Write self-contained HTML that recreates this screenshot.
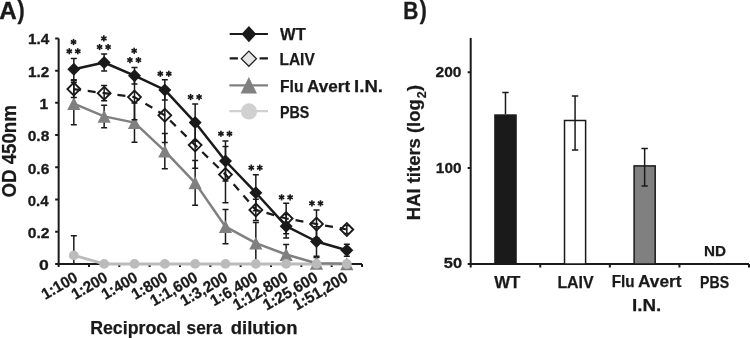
<!DOCTYPE html>
<html><head><meta charset="utf-8"><style>
html,body{margin:0;padding:0;background:#fff;width:750px;height:338px;overflow:hidden;}
svg{display:block;will-change:transform;}
text{font-family:"Liberation Sans",sans-serif;}
</style></head><body>
<svg width="750" height="338" viewBox="0 0 750 338">
<rect width="750" height="338" fill="#fff"/>
<path d="M58.65 38.4V264.0H362.0" stroke="#1a1a1a" stroke-width="2" fill="none"/>
<path d="M55.15 264.00H58.65M55.15 231.77H58.65M55.15 199.54H58.65M55.15 167.31H58.65M55.15 135.09H58.65M55.15 102.86H58.65M55.15 70.63H58.65M55.15 38.40H58.65M58.65 264.0V266.90M88.98 264.0V266.90M119.32 264.0V266.90M149.66 264.0V266.90M179.99 264.0V266.90M210.33 264.0V266.90M240.66 264.0V266.90M271.00 264.0V266.90M301.33 264.0V266.90M331.66 264.0V266.90M362.00 264.0V266.90" stroke="#1a1a1a" stroke-width="2" fill="none"/>
<text transform="translate(16.0 151.35) rotate(-90)" text-anchor="middle" font-family="Liberation Sans, sans-serif" font-weight="bold" font-size="19.3" fill="#1a1a1a" stroke="#1a1a1a" stroke-width="0.25" textLength="92.5" lengthAdjust="spacingAndGlyphs">OD 450nm</text>
<text transform="translate(78.80 280.60) rotate(-30)" text-anchor="end" font-family="Liberation Sans, sans-serif" font-weight="bold" font-size="15.7" fill="#1a1a1a" stroke="#1a1a1a" stroke-width="0.3" textLength="38.84" lengthAdjust="spacingAndGlyphs">1:100</text>
<text transform="translate(108.83 280.60) rotate(-30)" text-anchor="end" font-family="Liberation Sans, sans-serif" font-weight="bold" font-size="15.7" fill="#1a1a1a" stroke="#1a1a1a" stroke-width="0.3" textLength="38.84" lengthAdjust="spacingAndGlyphs">1:200</text>
<text transform="translate(138.86 280.60) rotate(-30)" text-anchor="end" font-family="Liberation Sans, sans-serif" font-weight="bold" font-size="15.7" fill="#1a1a1a" stroke="#1a1a1a" stroke-width="0.3" textLength="38.84" lengthAdjust="spacingAndGlyphs">1:400</text>
<text transform="translate(168.89 280.60) rotate(-30)" text-anchor="end" font-family="Liberation Sans, sans-serif" font-weight="bold" font-size="15.7" fill="#1a1a1a" stroke="#1a1a1a" stroke-width="0.3" textLength="38.84" lengthAdjust="spacingAndGlyphs">1:800</text>
<text transform="translate(198.92 280.60) rotate(-30)" text-anchor="end" font-family="Liberation Sans, sans-serif" font-weight="bold" font-size="15.7" fill="#1a1a1a" stroke="#1a1a1a" stroke-width="0.3" textLength="51.80" lengthAdjust="spacingAndGlyphs">1:1,600</text>
<text transform="translate(228.95 280.60) rotate(-30)" text-anchor="end" font-family="Liberation Sans, sans-serif" font-weight="bold" font-size="15.7" fill="#1a1a1a" stroke="#1a1a1a" stroke-width="0.3" textLength="51.80" lengthAdjust="spacingAndGlyphs">1:3,200</text>
<text transform="translate(258.98 280.60) rotate(-30)" text-anchor="end" font-family="Liberation Sans, sans-serif" font-weight="bold" font-size="15.7" fill="#1a1a1a" stroke="#1a1a1a" stroke-width="0.3" textLength="51.80" lengthAdjust="spacingAndGlyphs">1:6,400</text>
<text transform="translate(289.01 280.60) rotate(-30)" text-anchor="end" font-family="Liberation Sans, sans-serif" font-weight="bold" font-size="15.7" fill="#1a1a1a" stroke="#1a1a1a" stroke-width="0.3" textLength="60.37" lengthAdjust="spacingAndGlyphs">1:12,800</text>
<text transform="translate(319.04 280.60) rotate(-30)" text-anchor="end" font-family="Liberation Sans, sans-serif" font-weight="bold" font-size="15.7" fill="#1a1a1a" stroke="#1a1a1a" stroke-width="0.3" textLength="60.37" lengthAdjust="spacingAndGlyphs">1:25,600</text>
<text transform="translate(349.07 280.60) rotate(-30)" text-anchor="end" font-family="Liberation Sans, sans-serif" font-weight="bold" font-size="15.7" fill="#1a1a1a" stroke="#1a1a1a" stroke-width="0.3" textLength="60.37" lengthAdjust="spacingAndGlyphs">1:51,200</text>
<polyline points="73.82,255.40 104.15,263.90 134.49,263.90 164.82,263.90 195.16,263.90 225.49,263.90 255.83,263.90 286.16,263.90 316.50,263.90 346.83,264.00" fill="none" stroke="#bbbbbb" stroke-width="3.0" stroke-linejoin="round"/>
<polyline points="73.82,103.60 104.15,116.40 134.49,122.65 164.82,151.20 195.16,182.85 225.49,226.70 255.83,243.20 286.16,254.50 316.50,263.30 346.83,263.80" fill="none" stroke="#808080" stroke-width="2.5" stroke-linejoin="round"/>
<polyline points="73.82,89.10 104.15,93.15 134.49,97.10 164.82,115.35 195.16,145.10 225.49,174.60 255.83,209.90 286.16,218.50 316.50,224.00 346.83,229.50" fill="none" stroke="#1a1a1a" stroke-width="2.25" stroke-linejoin="round" stroke-dasharray="8 7" stroke-dashoffset="1.0"/>
<polyline points="73.82,69.20 104.15,62.50 134.49,75.65 164.82,89.90 195.16,122.60 225.49,161.00 255.83,192.75 286.16,226.20 316.50,241.50 346.83,250.30" fill="none" stroke="#1a1a1a" stroke-width="2.5" stroke-linejoin="round"/>
<path d="M73.82 82.40V124.80M70.82 82.40H76.82M70.82 124.80H76.82" stroke="#1a1a1a" stroke-width="1.5" fill="none"/>
<path d="M104.15 105.15V127.65M101.15 105.15H107.15M101.15 127.65H107.15" stroke="#1a1a1a" stroke-width="1.5" fill="none"/>
<path d="M134.49 103.00V142.30M131.49 103.00H137.49M131.49 142.30H137.49" stroke="#1a1a1a" stroke-width="1.5" fill="none"/>
<path d="M164.82 133.60V168.80M161.82 133.60H167.82M161.82 168.80H167.82" stroke="#1a1a1a" stroke-width="1.5" fill="none"/>
<path d="M195.16 160.50V205.20M192.16 160.50H198.16M192.16 205.20H198.16" stroke="#1a1a1a" stroke-width="1.5" fill="none"/>
<path d="M225.49 209.60V243.80M222.49 209.60H228.49M222.49 243.80H228.49" stroke="#1a1a1a" stroke-width="1.5" fill="none"/>
<path d="M255.83 222.40V264.00M252.83 222.40H258.83M252.83 264.00H258.83" stroke="#1a1a1a" stroke-width="1.5" fill="none"/>
<path d="M286.16 244.60V264.00M283.16 244.60H289.16" stroke="#1a1a1a" stroke-width="1.5" fill="none"/>
<path d="M316.50 257.50V264.00M313.50 257.50H319.50" stroke="#1a1a1a" stroke-width="1.5" fill="none"/>
<path d="M346.83 260.80V264.00M343.83 260.80H349.83" stroke="#1a1a1a" stroke-width="1.5" fill="none"/>
<path d="M73.82 235.70V264.00M70.82 235.70H76.82" stroke="#1a1a1a" stroke-width="1.5" fill="none"/>
<path d="M73.82 97.10L80.42 110.00L67.22 110.00Z" fill="#808080"/>
<path d="M104.15 109.90L110.75 122.80L97.55 122.80Z" fill="#808080"/>
<path d="M134.49 116.15L141.09 129.05L127.89 129.05Z" fill="#808080"/>
<path d="M164.82 144.70L171.42 157.60L158.22 157.60Z" fill="#808080"/>
<path d="M195.16 176.35L201.76 189.25L188.56 189.25Z" fill="#808080"/>
<path d="M225.49 220.20L232.09 233.10L218.89 233.10Z" fill="#808080"/>
<path d="M255.83 236.70L262.43 249.60L249.23 249.60Z" fill="#808080"/>
<path d="M286.16 248.00L292.76 260.90L279.56 260.90Z" fill="#808080"/>
<path d="M316.50 256.80L323.10 269.70L309.90 269.70Z" fill="#808080"/>
<path d="M346.83 257.30L353.43 270.20L340.23 270.20Z" fill="#808080"/>
<circle cx="73.82" cy="255.40" r="4.9" fill="#bbbbbb"/>
<circle cx="104.15" cy="263.90" r="4.9" fill="#bbbbbb"/>
<circle cx="134.49" cy="263.90" r="4.9" fill="#bbbbbb"/>
<circle cx="164.82" cy="263.90" r="4.9" fill="#bbbbbb"/>
<circle cx="195.16" cy="263.90" r="4.9" fill="#bbbbbb"/>
<circle cx="225.49" cy="263.90" r="4.9" fill="#bbbbbb"/>
<circle cx="255.83" cy="263.90" r="4.9" fill="#bbbbbb"/>
<circle cx="286.16" cy="263.90" r="4.9" fill="#bbbbbb"/>
<circle cx="316.50" cy="263.90" r="4.9" fill="#bbbbbb"/>
<circle cx="346.83" cy="264.00" r="4.9" fill="#bbbbbb"/>
<path d="M73.82 80.80V97.40M70.82 80.80H76.82M70.82 97.40H76.82" stroke="#1a1a1a" stroke-width="1.5" fill="none"/>
<path d="M104.15 85.60V100.70M101.15 85.60H107.15M101.15 100.70H107.15" stroke="#1a1a1a" stroke-width="1.5" fill="none"/>
<path d="M134.49 74.40V119.80M131.49 74.40H137.49M131.49 119.80H137.49" stroke="#1a1a1a" stroke-width="1.5" fill="none"/>
<path d="M164.82 88.25V142.45M161.82 88.25H167.82M161.82 142.45H167.82" stroke="#1a1a1a" stroke-width="1.5" fill="none"/>
<path d="M195.16 122.00V168.20M192.16 122.00H198.16M192.16 168.20H198.16" stroke="#1a1a1a" stroke-width="1.5" fill="none"/>
<path d="M225.49 146.40V202.80M222.49 146.40H228.49M222.49 202.80H228.49" stroke="#1a1a1a" stroke-width="1.5" fill="none"/>
<path d="M255.83 199.30V220.50M252.83 199.30H258.83M252.83 220.50H258.83" stroke="#1a1a1a" stroke-width="1.5" fill="none"/>
<path d="M286.16 203.30V233.70M283.16 203.30H289.16M283.16 233.70H289.16" stroke="#1a1a1a" stroke-width="1.5" fill="none"/>
<path d="M316.50 210.00V238.00M313.50 210.00H319.50M313.50 238.00H319.50" stroke="#1a1a1a" stroke-width="1.5" fill="none"/>
<path d="M346.83 225.50V233.50M343.83 225.50H349.83M343.83 233.50H349.83" stroke="#1a1a1a" stroke-width="1.5" fill="none"/>
<path d="M73.82 58.60V79.80M70.82 58.60H76.82M70.82 79.80H76.82" stroke="#1a1a1a" stroke-width="1.5" fill="none"/>
<path d="M104.15 54.00V71.00M101.15 54.00H107.15M101.15 71.00H107.15" stroke="#1a1a1a" stroke-width="1.5" fill="none"/>
<path d="M134.49 67.40V83.90M131.49 67.40H137.49M131.49 83.90H137.49" stroke="#1a1a1a" stroke-width="1.5" fill="none"/>
<path d="M164.82 79.70V100.10M161.82 79.70H167.82M161.82 100.10H167.82" stroke="#1a1a1a" stroke-width="1.5" fill="none"/>
<path d="M195.16 103.90V141.30M192.16 103.90H198.16M192.16 141.30H198.16" stroke="#1a1a1a" stroke-width="1.5" fill="none"/>
<path d="M225.49 141.00V181.00M222.49 141.00H228.49M222.49 181.00H228.49" stroke="#1a1a1a" stroke-width="1.5" fill="none"/>
<path d="M255.83 174.75V210.75M252.83 174.75H258.83M252.83 210.75H258.83" stroke="#1a1a1a" stroke-width="1.5" fill="none"/>
<path d="M286.16 214.50V237.90M283.16 214.50H289.16M283.16 237.90H289.16" stroke="#1a1a1a" stroke-width="1.5" fill="none"/>
<path d="M316.50 226.70V256.30M313.50 226.70H319.50M313.50 256.30H319.50" stroke="#1a1a1a" stroke-width="1.5" fill="none"/>
<path d="M346.83 244.30V256.30M343.83 244.30H349.83M343.83 256.30H349.83" stroke="#1a1a1a" stroke-width="1.5" fill="none"/>
<path d="M73.82 82.70L80.22 89.10L73.82 95.50L67.42 89.10Z" fill="none" stroke="#1a1a1a" stroke-width="1.9"/>
<path d="M104.15 86.75L110.55 93.15L104.15 99.55L97.75 93.15Z" fill="none" stroke="#1a1a1a" stroke-width="1.9"/>
<path d="M134.49 90.70L140.89 97.10L134.49 103.50L128.09 97.10Z" fill="none" stroke="#1a1a1a" stroke-width="1.9"/>
<path d="M164.82 108.95L171.22 115.35L164.82 121.75L158.42 115.35Z" fill="none" stroke="#1a1a1a" stroke-width="1.9"/>
<path d="M195.16 138.70L201.56 145.10L195.16 151.50L188.76 145.10Z" fill="none" stroke="#1a1a1a" stroke-width="1.9"/>
<path d="M225.49 168.20L231.89 174.60L225.49 181.00L219.09 174.60Z" fill="none" stroke="#1a1a1a" stroke-width="1.9"/>
<path d="M255.83 203.50L262.23 209.90L255.83 216.30L249.43 209.90Z" fill="none" stroke="#1a1a1a" stroke-width="1.9"/>
<path d="M286.16 212.10L292.56 218.50L286.16 224.90L279.76 218.50Z" fill="none" stroke="#1a1a1a" stroke-width="1.9"/>
<path d="M316.50 217.60L322.90 224.00L316.50 230.40L310.10 224.00Z" fill="none" stroke="#1a1a1a" stroke-width="1.9"/>
<path d="M346.83 223.10L353.23 229.50L346.83 235.90L340.43 229.50Z" fill="none" stroke="#1a1a1a" stroke-width="1.9"/>
<path d="M73.82 62.70L80.32 69.20L73.82 75.70L67.32 69.20Z" fill="#1a1a1a"/>
<path d="M104.15 56.00L110.65 62.50L104.15 69.00L97.65 62.50Z" fill="#1a1a1a"/>
<path d="M134.49 69.15L140.99 75.65L134.49 82.15L127.99 75.65Z" fill="#1a1a1a"/>
<path d="M164.82 83.40L171.32 89.90L164.82 96.40L158.32 89.90Z" fill="#1a1a1a"/>
<path d="M195.16 116.10L201.66 122.60L195.16 129.10L188.66 122.60Z" fill="#1a1a1a"/>
<path d="M225.49 154.50L231.99 161.00L225.49 167.50L218.99 161.00Z" fill="#1a1a1a"/>
<path d="M255.83 186.25L262.33 192.75L255.83 199.25L249.33 192.75Z" fill="#1a1a1a"/>
<path d="M286.16 219.70L292.66 226.20L286.16 232.70L279.66 226.20Z" fill="#1a1a1a"/>
<path d="M316.50 235.00L323.00 241.50L316.50 248.00L310.00 241.50Z" fill="#1a1a1a"/>
<path d="M346.83 243.80L353.33 250.30L346.83 256.80L340.33 250.30Z" fill="#1a1a1a"/>
<g stroke="#1a1a1a" stroke-width="1.65" stroke-linecap="butt"><line x1="73.52" y1="38.90" x2="73.52" y2="45.10"/><line x1="70.83" y1="40.45" x2="76.20" y2="43.55"/><line x1="70.83" y1="43.55" x2="76.20" y2="40.45"/></g>
<g stroke="#1a1a1a" stroke-width="1.65" stroke-linecap="butt"><line x1="69.27" y1="48.15" x2="69.27" y2="54.35"/><line x1="66.58" y1="49.70" x2="71.95" y2="52.80"/><line x1="66.58" y1="52.80" x2="71.95" y2="49.70"/></g>
<g stroke="#1a1a1a" stroke-width="1.65" stroke-linecap="butt"><line x1="77.77" y1="48.15" x2="77.77" y2="54.35"/><line x1="75.08" y1="49.70" x2="80.45" y2="52.80"/><line x1="75.08" y1="52.80" x2="80.45" y2="49.70"/></g>
<g stroke="#1a1a1a" stroke-width="1.65" stroke-linecap="butt"><line x1="103.85" y1="35.30" x2="103.85" y2="41.50"/><line x1="101.17" y1="36.85" x2="106.54" y2="39.95"/><line x1="101.17" y1="39.95" x2="106.54" y2="36.85"/></g>
<g stroke="#1a1a1a" stroke-width="1.65" stroke-linecap="butt"><line x1="99.60" y1="43.95" x2="99.60" y2="50.15"/><line x1="96.92" y1="45.50" x2="102.29" y2="48.60"/><line x1="96.92" y1="48.60" x2="102.29" y2="45.50"/></g>
<g stroke="#1a1a1a" stroke-width="1.65" stroke-linecap="butt"><line x1="108.10" y1="43.95" x2="108.10" y2="50.15"/><line x1="105.42" y1="45.50" x2="110.79" y2="48.60"/><line x1="105.42" y1="48.60" x2="110.79" y2="45.50"/></g>
<g stroke="#1a1a1a" stroke-width="1.65" stroke-linecap="butt"><line x1="134.19" y1="47.70" x2="134.19" y2="53.90"/><line x1="131.50" y1="49.25" x2="136.87" y2="52.35"/><line x1="131.50" y1="52.35" x2="136.87" y2="49.25"/></g>
<g stroke="#1a1a1a" stroke-width="1.65" stroke-linecap="butt"><line x1="129.94" y1="56.95" x2="129.94" y2="63.15"/><line x1="127.25" y1="58.50" x2="132.62" y2="61.60"/><line x1="127.25" y1="61.60" x2="132.62" y2="58.50"/></g>
<g stroke="#1a1a1a" stroke-width="1.65" stroke-linecap="butt"><line x1="138.44" y1="56.95" x2="138.44" y2="63.15"/><line x1="135.75" y1="58.50" x2="141.12" y2="61.60"/><line x1="135.75" y1="61.60" x2="141.12" y2="58.50"/></g>
<g stroke="#1a1a1a" stroke-width="1.65" stroke-linecap="butt"><line x1="160.27" y1="70.65" x2="160.27" y2="76.85"/><line x1="157.59" y1="72.20" x2="162.96" y2="75.30"/><line x1="157.59" y1="75.30" x2="162.96" y2="72.20"/></g>
<g stroke="#1a1a1a" stroke-width="1.65" stroke-linecap="butt"><line x1="168.77" y1="70.65" x2="168.77" y2="76.85"/><line x1="166.09" y1="72.20" x2="171.46" y2="75.30"/><line x1="166.09" y1="75.30" x2="171.46" y2="72.20"/></g>
<g stroke="#1a1a1a" stroke-width="1.65" stroke-linecap="butt"><line x1="190.61" y1="93.95" x2="190.61" y2="100.15"/><line x1="187.92" y1="95.50" x2="193.29" y2="98.60"/><line x1="187.92" y1="98.60" x2="193.29" y2="95.50"/></g>
<g stroke="#1a1a1a" stroke-width="1.65" stroke-linecap="butt"><line x1="199.11" y1="93.95" x2="199.11" y2="100.15"/><line x1="196.42" y1="95.50" x2="201.79" y2="98.60"/><line x1="196.42" y1="98.60" x2="201.79" y2="95.50"/></g>
<g stroke="#1a1a1a" stroke-width="1.65" stroke-linecap="butt"><line x1="220.94" y1="130.65" x2="220.94" y2="136.85"/><line x1="218.26" y1="132.20" x2="223.63" y2="135.30"/><line x1="218.26" y1="135.30" x2="223.63" y2="132.20"/></g>
<g stroke="#1a1a1a" stroke-width="1.65" stroke-linecap="butt"><line x1="229.44" y1="130.65" x2="229.44" y2="136.85"/><line x1="226.76" y1="132.20" x2="232.13" y2="135.30"/><line x1="226.76" y1="135.30" x2="232.13" y2="132.20"/></g>
<g stroke="#1a1a1a" stroke-width="1.65" stroke-linecap="butt"><line x1="251.28" y1="164.55" x2="251.28" y2="170.75"/><line x1="248.59" y1="166.10" x2="253.96" y2="169.20"/><line x1="248.59" y1="169.20" x2="253.96" y2="166.10"/></g>
<g stroke="#1a1a1a" stroke-width="1.65" stroke-linecap="butt"><line x1="259.78" y1="164.55" x2="259.78" y2="170.75"/><line x1="257.09" y1="166.10" x2="262.46" y2="169.20"/><line x1="257.09" y1="169.20" x2="262.46" y2="166.10"/></g>
<g stroke="#1a1a1a" stroke-width="1.65" stroke-linecap="butt"><line x1="281.61" y1="194.25" x2="281.61" y2="200.45"/><line x1="278.93" y1="195.80" x2="284.30" y2="198.90"/><line x1="278.93" y1="198.90" x2="284.30" y2="195.80"/></g>
<g stroke="#1a1a1a" stroke-width="1.65" stroke-linecap="butt"><line x1="290.11" y1="194.25" x2="290.11" y2="200.45"/><line x1="287.43" y1="195.80" x2="292.80" y2="198.90"/><line x1="287.43" y1="198.90" x2="292.80" y2="195.80"/></g>
<g stroke="#1a1a1a" stroke-width="1.65" stroke-linecap="butt"><line x1="311.95" y1="200.25" x2="311.95" y2="206.45"/><line x1="309.26" y1="201.80" x2="314.63" y2="204.90"/><line x1="309.26" y1="204.90" x2="314.63" y2="201.80"/></g>
<g stroke="#1a1a1a" stroke-width="1.65" stroke-linecap="butt"><line x1="320.45" y1="200.25" x2="320.45" y2="206.45"/><line x1="317.76" y1="201.80" x2="323.13" y2="204.90"/><line x1="317.76" y1="204.90" x2="323.13" y2="201.80"/></g>
<path d="M229.7 34H267.9" stroke="#1a1a1a" stroke-width="2.2"/>
<path d="M248.9 25.95L256.3 34.1L248.9 42.25L241.5 34.1Z" fill="#1a1a1a"/>
<path d="M229.7 58.3H237.9M259.6 58.3H267.9" stroke="#1a1a1a" stroke-width="2.2"/>
<path d="M248.85 51.10L256.45 58.70L248.85 66.30L241.25 58.70Z" fill="#e6e6e6" stroke="#222" stroke-width="1.25"/>
<path d="M229.4 85.3H268" stroke="#808080" stroke-width="2.3"/>
<path d="M248.8 77L257 93.4L240.6 93.4Z" fill="#808080"/>
<path d="M229.4 111.2H268" stroke="#d0d0d0" stroke-width="2.3"/>
<circle cx="249" cy="111.4" r="8.1" fill="#d0d0d0"/>
<path d="M470.7 38.1V264.0H749.0" stroke="#1a1a1a" stroke-width="2" fill="none"/>
<path d="M467.70 72.2H470.7M467.70 168.0H470.7M467.70 264.0H470.7M470.70 264.0V267.5M540.27 264.0V267.5M609.85 264.0V267.5M679.42 264.0V267.5M749.00 264.0V267.5" stroke="#1a1a1a" stroke-width="2" fill="none"/>
<rect x="494.19" y="114.30" width="22.60" height="149.70" fill="#1a1a1a"/>
<path d="M505.49 92.40V114.30M502.29 92.40H508.69" stroke="#1a1a1a" stroke-width="1.5" fill="none"/>
<rect x="564.51" y="120.50" width="21.10" height="143.50" fill="#fff" stroke="#1a1a1a" stroke-width="1.5"/>
<path d="M575.06 96.00V150.10M571.86 96.00H578.26M571.86 150.10H578.26" stroke="#1a1a1a" stroke-width="1.5" fill="none"/>
<rect x="634.09" y="165.90" width="21.10" height="98.10" fill="#808080" stroke="#1a1a1a" stroke-width="1.5"/>
<path d="M644.64 148.60V185.90M641.44 148.60H647.84M641.44 185.90H647.84" stroke="#1a1a1a" stroke-width="1.5" fill="none"/>
<text transform="translate(420.2 220.2) rotate(-90)" font-family="Liberation Sans, sans-serif" font-weight="bold" font-size="18.5" fill="#1a1a1a" stroke="#1a1a1a" stroke-width="0.25" textLength="121" lengthAdjust="spacingAndGlyphs">HAI titers (log</text>
<text transform="translate(425.6 98.2) rotate(-90)" font-family="Liberation Sans, sans-serif" font-weight="bold" font-size="12.5" fill="#1a1a1a" stroke="#1a1a1a" stroke-width="0.2">2</text>
<text transform="translate(420.3 91.2) rotate(-90)" font-family="Liberation Sans, sans-serif" font-weight="bold" font-size="19.2" fill="#1a1a1a" stroke="#1a1a1a" stroke-width="0.25">)</text>
<text x="280.12" y="40.40" font-family="Liberation Sans, sans-serif" font-weight="bold" font-size="16.50" fill="#1a1a1a" stroke="#1a1a1a" stroke-width="0.25" textLength="25.67" lengthAdjust="spacingAndGlyphs">WT</text>
<text x="279.48" y="65.10" font-family="Liberation Sans, sans-serif" font-weight="bold" font-size="16.50" fill="#1a1a1a" stroke="#1a1a1a" stroke-width="0.25" textLength="35.27" lengthAdjust="spacingAndGlyphs">LAIV</text>
<text x="280.04" y="118.00" font-family="Liberation Sans, sans-serif" font-weight="bold" font-size="16.50" fill="#1a1a1a" stroke="#1a1a1a" stroke-width="0.25" textLength="29.34" lengthAdjust="spacingAndGlyphs">PBS</text>
<text x="435.58" y="77.40" font-family="Liberation Sans, sans-serif" font-weight="bold" font-size="15.30" fill="#1a1a1a" stroke="#1a1a1a" stroke-width="0.3" textLength="25.92" lengthAdjust="spacingAndGlyphs">200</text>
<text x="435.88" y="173.05" font-family="Liberation Sans, sans-serif" font-weight="bold" font-size="15.30" fill="#1a1a1a" stroke="#1a1a1a" stroke-width="0.3" textLength="25.66" lengthAdjust="spacingAndGlyphs">100</text>
<text x="443.86" y="268.30" font-family="Liberation Sans, sans-serif" font-weight="bold" font-size="15.30" fill="#1a1a1a" stroke="#1a1a1a" stroke-width="0.3" textLength="18.22" lengthAdjust="spacingAndGlyphs">50</text>
<text x="704.00" y="255.90" font-family="Liberation Sans, sans-serif" font-weight="bold" font-size="14.50" fill="#1a1a1a" stroke="#1a1a1a" stroke-width="0.25" textLength="22.00" lengthAdjust="spacingAndGlyphs">ND</text>
<text x="494.14" y="288.00" font-family="Liberation Sans, sans-serif" font-weight="bold" font-size="17.00" fill="#1a1a1a" stroke="#1a1a1a" stroke-width="0.25" textLength="26.24" lengthAdjust="spacingAndGlyphs">WT</text>
<text x="557.39" y="288.00" font-family="Liberation Sans, sans-serif" font-weight="bold" font-size="17.00" fill="#1a1a1a" stroke="#1a1a1a" stroke-width="0.25" textLength="36.27" lengthAdjust="spacingAndGlyphs">LAIV</text>
<text x="700.03" y="287.80" font-family="Liberation Sans, sans-serif" font-weight="bold" font-size="17.00" fill="#1a1a1a" stroke="#1a1a1a" stroke-width="0.25" textLength="29.04" lengthAdjust="spacingAndGlyphs">PBS</text>
<text x="631.95" y="310.50" font-family="Liberation Sans, sans-serif" font-weight="bold" font-size="17.00" fill="#1a1a1a" stroke="#1a1a1a" stroke-width="0.25" textLength="29.28" lengthAdjust="spacingAndGlyphs">I.N.</text>
<text x="90.15" y="333.90" font-family="Liberation Sans, sans-serif" font-weight="bold" font-size="18.50" fill="#1a1a1a" stroke="#1a1a1a" stroke-width="0.25" textLength="90.86" lengthAdjust="spacingAndGlyphs">Reciprocal</text>
<text x="186.55" y="333.90" font-family="Liberation Sans, sans-serif" font-weight="bold" font-size="18.50" fill="#1a1a1a" stroke="#1a1a1a" stroke-width="0.25" textLength="35.45" lengthAdjust="spacingAndGlyphs">sera</text>
<text x="230.75" y="333.90" font-family="Liberation Sans, sans-serif" font-weight="bold" font-size="18.50" fill="#1a1a1a" stroke="#1a1a1a" stroke-width="0.25" textLength="66.71" lengthAdjust="spacingAndGlyphs">dilution</text>
<text x="280.06" y="91.90" font-family="Liberation Sans, sans-serif" font-weight="bold" font-size="16.50" fill="#1a1a1a" stroke="#1a1a1a" stroke-width="0.25" textLength="23.34" lengthAdjust="spacingAndGlyphs">Flu</text>
<text x="306.99" y="91.90" font-family="Liberation Sans, sans-serif" font-weight="bold" font-size="16.50" fill="#1a1a1a" stroke="#1a1a1a" stroke-width="0.25" textLength="43.26" lengthAdjust="spacingAndGlyphs">Avert</text>
<text x="354.14" y="91.90" font-family="Liberation Sans, sans-serif" font-weight="bold" font-size="16.50" fill="#1a1a1a" stroke="#1a1a1a" stroke-width="0.25" textLength="28.84" lengthAdjust="spacingAndGlyphs">I.N.</text>
<text x="611.80" y="287.40" font-family="Liberation Sans, sans-serif" font-weight="bold" font-size="17.00" fill="#1a1a1a" stroke="#1a1a1a" stroke-width="0.25" textLength="22.88" lengthAdjust="spacingAndGlyphs">Flu</text>
<text x="637.99" y="287.40" font-family="Liberation Sans, sans-serif" font-weight="bold" font-size="17.00" fill="#1a1a1a" stroke="#1a1a1a" stroke-width="0.25" textLength="43.59" lengthAdjust="spacingAndGlyphs">Avert</text>
<text x="-0.80" y="18.90" font-family="Liberation Sans, sans-serif" font-weight="bold" font-size="24.50" fill="#1a1a1a" stroke="#1a1a1a" stroke-width="0.4" textLength="17.50" lengthAdjust="spacingAndGlyphs">A</text>
<text x="17.58" y="19.20" font-family="Liberation Sans, sans-serif" font-weight="bold" font-size="26.00" fill="#1a1a1a" stroke="#1a1a1a" stroke-width="0.4" textLength="7.13" lengthAdjust="spacingAndGlyphs">)</text>
<text x="403.21" y="19.10" font-family="Liberation Sans, sans-serif" font-weight="bold" font-size="24.50" fill="#1a1a1a" stroke="#1a1a1a" stroke-width="0.4" textLength="15.09" lengthAdjust="spacingAndGlyphs">B</text>
<text x="419.68" y="19.20" font-family="Liberation Sans, sans-serif" font-weight="bold" font-size="26.00" fill="#1a1a1a" stroke="#1a1a1a" stroke-width="0.4" textLength="7.02" lengthAdjust="spacingAndGlyphs">)</text>
<text x="28.02" y="43.80" font-family="Liberation Sans, sans-serif" font-weight="bold" font-size="15.30" fill="#1a1a1a" stroke="#1a1a1a" stroke-width="0.3" textLength="21.31" lengthAdjust="spacingAndGlyphs">1.4</text>
<text x="28.02" y="77.40" font-family="Liberation Sans, sans-serif" font-weight="bold" font-size="15.30" fill="#1a1a1a" stroke="#1a1a1a" stroke-width="0.3" textLength="21.31" lengthAdjust="spacingAndGlyphs">1.2</text>
<text x="39.52" y="108.90" font-family="Liberation Sans, sans-serif" font-weight="bold" font-size="15.30" fill="#1a1a1a" stroke="#1a1a1a" stroke-width="0.3" textLength="8.70" lengthAdjust="spacingAndGlyphs">1</text>
<text x="27.69" y="141.40" font-family="Liberation Sans, sans-serif" font-weight="bold" font-size="15.30" fill="#1a1a1a" stroke="#1a1a1a" stroke-width="0.3" textLength="21.61" lengthAdjust="spacingAndGlyphs">0.8</text>
<text x="27.69" y="173.60" font-family="Liberation Sans, sans-serif" font-weight="bold" font-size="15.30" fill="#1a1a1a" stroke="#1a1a1a" stroke-width="0.3" textLength="21.61" lengthAdjust="spacingAndGlyphs">0.6</text>
<text x="27.71" y="205.60" font-family="Liberation Sans, sans-serif" font-weight="bold" font-size="15.30" fill="#1a1a1a" stroke="#1a1a1a" stroke-width="0.3" textLength="20.82" lengthAdjust="spacingAndGlyphs">0.4</text>
<text x="27.68" y="237.80" font-family="Liberation Sans, sans-serif" font-weight="bold" font-size="15.30" fill="#1a1a1a" stroke="#1a1a1a" stroke-width="0.3" textLength="21.81" lengthAdjust="spacingAndGlyphs">0.2</text>
<text x="39.11" y="269.80" font-family="Liberation Sans, sans-serif" font-weight="bold" font-size="15.30" fill="#1a1a1a" stroke="#1a1a1a" stroke-width="0.3" textLength="9.80" lengthAdjust="spacingAndGlyphs">0</text>
</svg>
</body></html>
